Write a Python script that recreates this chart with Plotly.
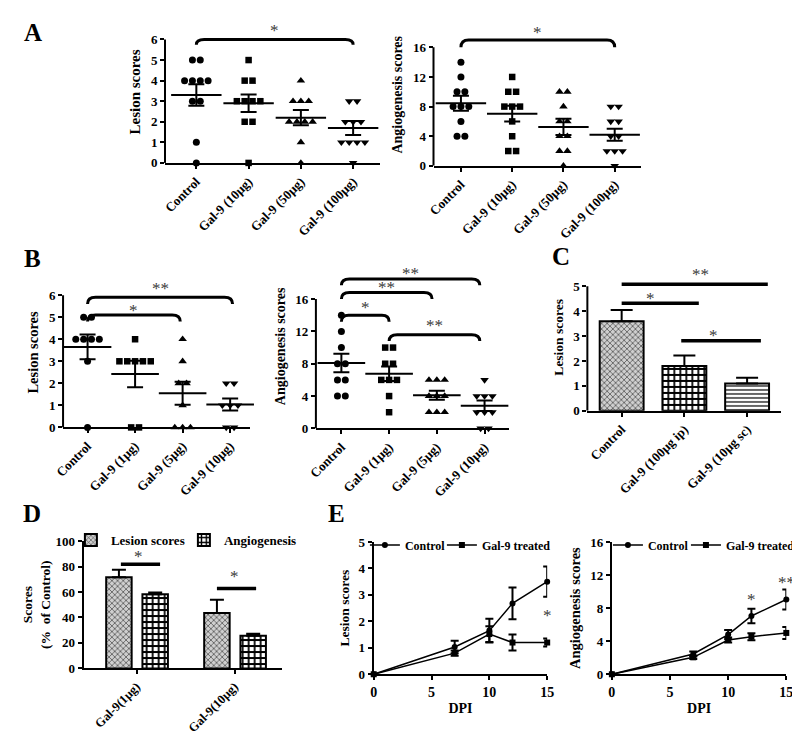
import numpy as np
import plotly.graph_objects as go

W, H = 800, 735
FONT = "Liberation Serif"

# ---------------- data ----------------
a_groups = ["Control", "Gal-9 (10µg)", "Gal-9 (50µg)", "Gal-9 (100µg)"]
a_lesion = [[5, 5, 4, 4, 4, 4, 3, 3, 1, 0],
            [5, 4, 4, 3, 3, 3, 3, 2, 2, 0],
            [4, 3, 3, 3, 2, 2, 2, 2, 1, 0],
            [3, 3, 2, 2, 2, 1, 1, 1, 1, 0]]
a_lesion_mean = [3.3, 2.9, 2.2, 1.7]
a_lesion_sem = [0.52, 0.43, 0.37, 0.34]
a_angio = [[14, 12, 10, 10, 8, 8, 8, 6, 4, 4],
           [12, 10, 10, 8, 8, 8, 6, 4, 2, 2],
           [10, 10, 8, 6, 6, 4, 4, 2, 2, 0],
           [8, 8, 6, 6, 4, 4, 2, 2, 2, 0]]
a_angio_mean = [8.45, 7.05, 5.25, 4.2]
a_angio_sem = [1.0, 1.05, 1.1, 0.82]

b_groups = ["Control", "Gal-9 (1µg)", "Gal-9 (5µg)", "Gal-9 (10µg)"]
b_lesion = [[5, 5, 4, 4, 4, 4, 3, 0],
            [4, 3, 3, 3, 3, 3, 0, 0],
            [4, 3, 2, 2, 1, 0, 0, 0],
            [2, 2, 1, 1, 1, 0, 0]]
b_lesion_mean = [3.65, 2.42, 1.55, 1.04]
b_lesion_sem = [0.56, 0.6, 0.52, 0.27]
b_angio = [[14, 12, 10, 8, 8, 6, 6, 4, 4],
           [10, 10, 8, 8, 6, 6, 6, 4, 2],
           [6, 6, 6, 4, 4, 4, 2, 2, 2],
           [6, 4, 4, 4, 2, 2, 2, 0, 0]]
b_angio_mean = [8.1, 6.75, 4.1, 2.8]
b_angio_sem = [1.15, 0.9, 0.55, 0.65]

c_groups = ["Control", "Gal-9 (100µg ip)", "Gal-9 (10µg sc)"]
c_mean = [3.6, 1.8, 1.1]
c_sem = [0.45, 0.42, 0.23]

d_groups = ["Gal-9(1µg)", "Gal-9(10µg)"]
d_series = ["Lesion scores", "Angiogenesis"]
d_lesion = [71.5, 43.5]
d_lesion_sem = [6.0, 10.3]
d_angio = [58.3, 25.7]
d_angio_sem = [1.2, 1.5]

e_dpi = [0, 7, 10, 12, 15]
e_series = ["Control", "Gal-9 treated"]
e_les_ctrl = [0, 1.03, 1.65, 2.68, 3.5]
e_les_ctrl_sem = [0, 0.24, 0.45, 0.6, 0.57]
e_les_gal = [0, 0.8, 1.52, 1.2, 1.2]
e_les_gal_sem = [0, 0.1, 0.3, 0.3, 0.15]
e_ang_ctrl = [0, 2.45, 4.8, 7.05, 9.05]
e_ang_ctrl_sem = [0, 0.3, 0.57, 0.87, 1.2]
e_ang_gal = [0, 2.05, 4.15, 4.55, 5.0]
e_ang_gal_sem = [0, 0.2, 0.3, 0.42, 0.72]

# ---------------- helpers ----------------
fig = go.Figure()
layout = {}
shapes = []
annotations = []


def fx(px):
    return px / W


def fy(py):
    return 1 - py / H


def refs(n):
    s = "" if n == 1 else str(n)
    return "x" + s, "y" + s, "xaxis" + s, "yaxis" + s


def tfont(size=13):
    return dict(family=FONT, size=size, color="black", weight="bold")


def add_axes(n, x0, x1, xr, y0, yunit, yr, ytickvals, ytitle, ytsize,
             xtickvals=None, xticktext=None, xtangle=None, yline_top=None,
             xtitle=None, xtsize=13, ystandoff=6):
    xref, yref, xa, ya = refs(n)
    ytop = y0 - (yr[1] - yr[0]) * yunit
    common = dict(showgrid=False, zeroline=False, ticks="outside", ticklen=4,
                  tickwidth=2, tickcolor="black", linecolor="black", linewidth=2)
    xd = dict(domain=[fx(x0), fx(x1)], range=xr, anchor=yref, showline=True,
              tickfont=tfont(xtsize), **common)
    if xtickvals is not None:
        xd["tickmode"] = "array"
        xd["tickvals"] = xtickvals
        xd["ticktext"] = xticktext if xticktext is not None else [str(v) for v in xtickvals]
    if xtangle is not None:
        xd["tickangle"] = xtangle
    if xtitle:
        xd["title"] = dict(text=xtitle, font=tfont(14), standoff=4)
    yd = dict(domain=[fy(y0), fy(ytop)], range=yr, anchor=xref,
              showline=yline_top is None, tickmode="array", tickvals=ytickvals,
              tickfont=tfont(13),
              title=dict(text=ytitle, font=tfont(ytsize), standoff=ystandoff),
              **common)
    layout[xa] = xd
    layout[ya] = yd
    if yline_top is not None:
        shapes.append(dict(type="line", xref=xref + " domain", yref=yref, x0=0, x1=0,
                           y0=yr[0], y1=yline_top, line=dict(color="black", width=2)))
    return xref, yref


def jitter(values, step):
    vals = np.array(values, dtype=float)
    off = np.zeros(len(vals))
    for v in np.unique(vals):
        idx = np.where(vals == v)[0]
        k = len(idx)
        off[idx] = (np.arange(k) - (k - 1) / 2) * step
    return off


SYMBOLS = ["circle", "square", "triangle-up", "triangle-down"]
SIZES = [7, 6.5, 7.5, 7.5]


def scatter_panel(xref, yref, groups, means, sems, cs, step_px=8, mean_len=36, cap=8):
    for i, vals in enumerate(groups):
        off = jitter(vals, step_px / cs)
        fig.add_trace(go.Scatter(x=i + off, y=vals, mode="markers", xaxis=xref, yaxis=yref,
                                 marker=dict(symbol=SYMBOLS[i], size=SIZES[i], color="black"),
                                 cliponaxis=False, showlegend=False, hoverinfo="skip"))
    fig.add_trace(go.Scatter(x=list(range(len(means))), y=means, mode="markers",
                             xaxis=xref, yaxis=yref, showlegend=False, cliponaxis=False,
                             marker=dict(symbol="line-ew", size=mean_len, color="black",
                                         line=dict(width=2, color="black")),
                             error_y=dict(type="data", array=sems, width=cap, thickness=2,
                                          color="black")))


STAR_COLOR = "#3a3a3a"


def star(xref, yref, x, y, label):
    annotations.append(dict(x=x, y=y, xref=xref, yref=yref, text=label, showarrow=False,
                            yshift=-3, font=dict(family=FONT, size=17, color=STAR_COLOR)))


def bracket(xref, yref, xa, xb, y, drop, r, label, ly):
    path = (f"M {xa},{y - drop} Q {xa},{y} {xa + r},{y} "
            f"L {xb - r},{y} Q {xb},{y} {xb},{y - drop}")
    shapes.append(dict(type="path", path=path, xref=xref, yref=yref,
                       line=dict(color="black", width=3)))
    star(xref, yref, (xa + xb) / 2, ly, label)


def hline(xref, yref, xa, xb, y, label, lx, ly):
    shapes.append(dict(type="line", xref=xref, yref=yref, x0=xa, x1=xb, y0=y, y1=y,
                       line=dict(color="black", width=3.5)))
    star(xref, yref, lx, ly, label)


def cat_range(x0, x1, c0, cs):
    return [(x0 - c0) / cs, (x1 - c0) / cs]


# ---------------- Panel A ----------------
cs = 53.33
xr, yr = add_axes(1, 151, 370, cat_range(151, 370, 183, cs), 151, 21.0, [0, 6.9],
                  [0, 1, 2, 3, 4, 5, 6], "Lesion scores", 15,
                  xtickvals=[0, 1, 2, 3], xticktext=a_groups, xtangle=-45, yline_top=6)
scatter_panel(xr, yr, a_lesion, a_lesion_mean, a_lesion_sem, cs)
bracket(xr, yr, 0, 3, 6.0, 0.25, 0.15, "*", 6.6)

cs = 52.3
xr, yr = add_axes(2, 425, 637, cat_range(425, 637, 453, cs), 154, 7.5625, [0, 19.2],
                  [0, 4, 8, 12, 16], "Angiogenesis scores", 14,
                  xtickvals=[0, 1, 2, 3], xticktext=a_groups, xtangle=-45, yline_top=16)
scatter_panel(xr, yr, a_angio, a_angio_mean, a_angio_sem, cs)
bracket(xr, yr, 0, 3, 17.0, 1.0, 0.15, "*", 18.4)

# ---------------- Panel B ----------------
cs = 48.5
xr, yr = add_axes(3, 47, 238, cat_range(47, 238, 72, cs), 421, 22.5, [0, 6.8],
                  [0, 1, 2, 3, 4, 5, 6], "Lesion scores", 14.5,
                  xtickvals=[0, 1, 2, 3], xticktext=b_groups, xtangle=-45, yline_top=6)
scatter_panel(xr, yr, b_lesion, b_lesion_mean, b_lesion_sem, cs, mean_len=34)
bracket(xr, yr, 0, 3.05, 5.9, 0.3, 0.17, "**", 6.42)
bracket(xr, yr, 0, 1.95, 5.1, 0.3, 0.17, "*", 5.45)

cs = 48.7
xr, yr = add_axes(4, 305, 502, cat_range(305, 502, 331, cs), 422, 8.25, [0, 20.3],
                  [0, 4, 8, 12, 16], "Angiogenesis scores", 14,
                  xtickvals=[0, 1, 2, 3], xticktext=b_groups, xtangle=-45, yline_top=16)
scatter_panel(xr, yr, b_angio, b_angio_mean, b_angio_sem, cs, mean_len=34)
bracket(xr, yr, 0, 2.9, 18.5, 0.8, 0.17, "**", 19.5)
bracket(xr, yr, 0, 1.9, 16.8, 0.8, 0.17, "**", 17.8)
bracket(xr, yr, 0, 1.0, 14.0, 0.8, 0.15, "*", 15.3)
bracket(xr, yr, 1.0, 2.9, 11.6, 0.8, 0.17, "**", 13.1)

# ---------------- Panel C ----------------
cs = 64
xr, yr = add_axes(5, 582, 780, cat_range(582, 780, 617, cs), 404, 25.4, [0, 5.9],
                  [0, 1, 2, 3, 4, 5], "Lesion scores", 13.5,
                  xtickvals=[0, 1, 2], xticktext=c_groups, xtangle=-45, yline_top=5)
fig.add_trace(go.Bar(x=[0, 1, 2], y=c_mean, width=0.7, xaxis=xr, yaxis=yr, showlegend=False,
                     marker=dict(color="white", line=dict(color="black", width=2),
                                 pattern=dict(shape=["x", "+", "-"], size=[4, 6, 4],
                                              solidity=[0.3, 0.5, 0.3],
                                              fgcolor=["#3a3a3a", "black", "black"],
                                              bgcolor=["#cfcfcf", "white", "white"],
                                              fillmode="replace")),
                     error_y=dict(type="data", symmetric=False, array=c_sem,
                                  arrayminus=[0, 0, 0], width=11, thickness=2, color="black")))
hline(xr, yr, 0, 2.33, 5.08, "**", 1.25, 5.6)
hline(xr, yr, 0, 1.23, 4.32, "*", 0.46, 4.65)
hline(xr, yr, 0.95, 2.22, 2.81, "*", 1.47, 3.15)

# ---------------- Panel D ----------------
xr, yr = add_axes(6, 68, 270, [-0.54, 1.48], 667, 1.3, [0, 100],
                  [0, 20, 40, 60, 80, 100], "Scores<br>(%  of Control)", 13.5,
                  xtickvals=[0, 1], xticktext=d_groups, xtangle=-45, xtsize=12.5, ystandoff=2)
fig.add_trace(go.Bar(x=[0, 1], y=d_lesion, name=d_series[0], width=0.26, offset=-0.31,
                     xaxis=xr, yaxis=yr, legend="legend", legendwidth=68,
                     marker=dict(color="white", line=dict(color="black", width=2),
                                 pattern=dict(shape="x", size=4, solidity=0.3, fgcolor="#3a3a3a",
                                              bgcolor="#cfcfcf", fillmode="replace")),
                     error_y=dict(type="data", symmetric=False, array=d_lesion_sem,
                                  arrayminus=[0, 0], width=7, thickness=2, color="black")))
fig.add_trace(go.Bar(x=[0, 1], y=d_angio, name=d_series[1], width=0.26, offset=0.06,
                     xaxis=xr, yaxis=yr, legend="legend",
                     marker=dict(color="white", line=dict(color="black", width=2),
                                 pattern=dict(shape="+", size=6, solidity=0.5, fgcolor="black",
                                              bgcolor="white", fillmode="replace")),
                     error_y=dict(type="data", symmetric=False, array=d_angio_sem,
                                  arrayminus=[0, 0], width=7, thickness=2, color="black")))
hline(xr, yr, -0.16, 0.24, 81.8, "*", 0.02, 90)
hline(xr, yr, 0.82, 1.22, 62.8, "*", 1.0, 74.5)


# ---------------- Panel E ----------------
def line_panel(xref, yref, legend, ctrl, ctrl_sem, gal, gal_sem, first_w):
    for name, ys, es, sym, lw in [(e_series[0], ctrl, ctrl_sem, "circle", first_w),
                                  (e_series[1], gal, gal_sem, "square", None)]:
        fig.add_trace(go.Scatter(x=e_dpi, y=ys, name=name, mode="lines+markers",
                                 xaxis=xref, yaxis=yref, legend=legend, cliponaxis=False,
                                 legendwidth=lw,
                                 line=dict(color="black", width=1.5),
                                 marker=dict(symbol=sym, size=6, color="black"),
                                 error_y=dict(type="data", array=es, width=4, thickness=2,
                                              color="black")))


xr, yr = add_axes(7, 364, 541, [0, 15], 673, 27.0, [0, 5], [0, 1, 2, 3, 4, 5],
                  "Lesion scores", 13.5, xtickvals=[0, 5, 10, 15], xtitle="DPI", xtsize=14)
line_panel(xr, yr, "legend2", e_les_ctrl, e_les_ctrl_sem, e_les_gal, e_les_gal_sem, 32)
star(xr, yr, 15, 2.33, "*")

xr, yr = add_axes(8, 607, 785, [0, 15], 673, 8.4375, [0, 16], [0, 4, 8, 12, 16],
                  "Angiogenesis scores", 14.5, xtickvals=[0, 5, 10, 15], xtitle="DPI", xtsize=14)
line_panel(xr, yr, "legend3", e_ang_ctrl, e_ang_ctrl_sem, e_ang_gal, e_ang_gal_sem, 33)
star(xr, yr, 12, 9.4, "*")
star(xr, yr, 15, 11.5, "**")

# ---------------- panel letters ----------------
for letter, px, py in [("A", 16, 18), ("B", 16, 249), ("C", 555, 247), ("D", 15, 509), ("E", 326, 509)]:
    annotations.append(dict(x=fx(px), y=fy(py), xref="paper", yref="paper", text=letter,
                            showarrow=False, xanchor="center", yanchor="middle",
                            font=dict(family=FONT, size=25, color="black", weight="bold")))

LEG = dict(orientation="h", xanchor="left", yanchor="middle", bgcolor="rgba(0,0,0,0)",
           traceorder="normal", itemwidth=30)
layout["legend"] = dict(x=fx(55), y=fy(536), font=tfont(13), **LEG)
layout["legend2"] = dict(x=fx(355), y=fy(541), font=tfont(12), **LEG)
layout["legend3"] = dict(x=fx(603), y=fy(541), font=tfont(12), **LEG)

fig.update_layout(width=W, height=H, margin=dict(l=0, r=0, t=0, b=0, pad=0),
                  paper_bgcolor="white", plot_bgcolor="white", barmode="overlay",
                  font=dict(family=FONT, size=13, color="black"),
                  shapes=shapes, annotations=annotations, showlegend=True, **layout)

fig.write_html("out.html")
